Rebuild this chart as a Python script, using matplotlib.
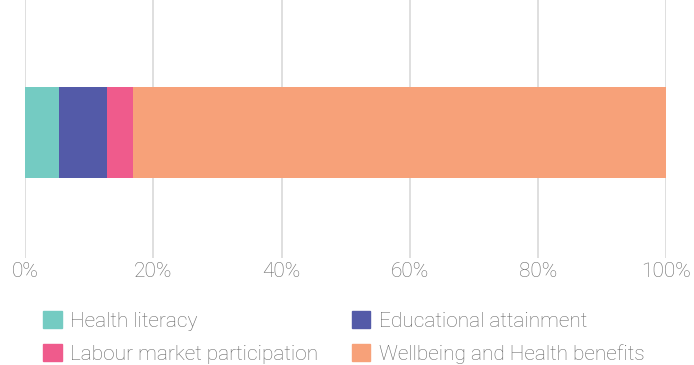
import matplotlib.pyplot as plt
from matplotlib.patches import Patch

categories = ["Health literacy", "Educational attainment",
              "Labour market participation", "Wellbeing and Health benefits"]
values = [5.3, 7.5, 4.0, 83.2]
colors = ["#74cbc2", "#535aa8", "#ef5b8c", "#f7a179"]
ticks = [0, 20, 40, 60, 80, 100]
tick_labels = ["0%", "20%", "40%", "60%", "80%", "100%"]

plt.rcParams['font.family'] = ['Roboto', 'DejaVu Sans']
plt.rcParams['font.weight'] = 'light'

fig = plt.figure(figsize=(6.94, 3.65), dpi=100)
ax = fig.add_axes([25/694, 1-258/365, 641.5/694, 258/365])

left = 0
for cat, val, col in zip(categories, values, colors):
    ax.barh(0, val, left=left, height=0.705, color=col, label=cat, zorder=3)
    left += val

ax.set_xlim(0, 100)
ax.set_ylim(-0.97, 1.03)
ax.set_xticks(ticks)
ax.set_xticklabels(tick_labels)
ax.set_yticks([])
ax.grid(axis='x', color='#dcdcdc', linewidth=1.3, zorder=0)
ax.tick_params(axis='x', length=0, pad=3, labelsize=15, labelcolor='#666666')
for s in ax.spines.values():
    s.set_visible(False)

# column-first order for a 2 column legend
order = [0, 2, 1, 3]
handles = [Patch(color=colors[i]) for i in order]
labels = [categories[i] for i in order]
fig.legend(handles, labels, ncol=2, loc='upper left',
           bbox_to_anchor=(43/694, 1-311/365), frameon=False,
           fontsize=15, labelcolor='#666666', handlelength=0.9,
           handleheight=0.9, handletextpad=0.4, columnspacing=1.6,
           labelspacing=0.62, borderpad=0, borderaxespad=0)

fig.savefig('out.png', dpi=100)
